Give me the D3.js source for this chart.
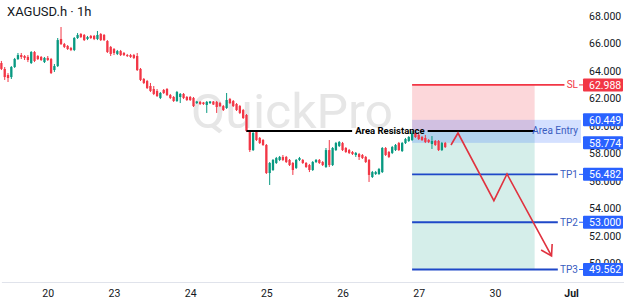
<!DOCTYPE html>
<html>
<head>
<meta charset="utf-8">
<script src="https://cdn.jsdelivr.net/npm/d3@7"></script>
<style>
  body { margin: 0; background: #fff; }
  svg { display: block; font-family: Roboto, 'Noto Sans', sans-serif; }
</style>
</head>
<body>
<svg id="chart" width="624" height="304"></svg>
<script>
// hourly candles, bar 0 = first bar on screen (one row per trading day)
const openPrices = [
  64.58, 64.15, 63.71, 63.56, 64.29, 64.87, 65.16, 65.09, 65.02, 64.58, 65.38, 65.09, 65.02, 64.65,
  64.95, 64.87, 64.07, 64.36, 66.33, 65.96, 65.82, 65.67, 65.53, 66.40, 66.69, 66.62, 66.33, 66.55, 66.55, 66.33, 66.69, 66.62, 66.18, 65.75,
  65.60, 65.24, 65.45, 65.31, 65.16, 65.16, 65.16, 65.09, 64.15, 63.42, 63.27, 62.91, 62.69, 62.55, 62.04, 62.62, 62.69, 62.25, 62.11, 61.82, 62.11, 62.33, 62.11,
  62.11, 62.04, 61.67, 61.75, 61.71, 61.53, 61.67, 61.78, 61.75, 61.67, 61.45, 61.31, 61.96, 61.82, 61.60, 61.45, 61.16, 60.80, 59.56, 58.25, 59.56, 59.13, 58.98,
  58.62, 56.58, 56.80, 57.31, 57.53, 57.75, 57.75, 57.53, 57.31, 56.95, 57.53, 57.53, 57.31, 57.16, 56.80, 57.38, 57.53, 57.38, 57.02, 58.25, 57.16, 58.25, 58.55,
  58.76, 58.40, 58.25, 58.11, 57.89, 57.96, 57.89, 57.75, 57.53, 56.29, 56.51, 56.51, 56.65, 58.40, 58.11, 58.04, 58.25, 58.76, 58.18, 58.76, 58.91, 58.98, 59.49,
  59.35, 59.20, 59.13, 58.98, 58.69, 58.91, 58.91, 58.25, 58.76
]
const highPrices = [
  64.73, 64.29, 63.85, 64.36, 64.95, 65.31, 65.31, 65.16, 65.16, 65.45, 65.45, 65.16, 65.09, 65.02,
  65.09, 64.95, 64.51, 66.40, 67.20, 66.04, 65.89, 65.75, 66.47, 66.76, 66.76, 66.69, 66.55, 66.62, 66.62, 66.91, 66.76, 66.69, 66.25, 65.82,
  65.67, 65.53, 65.53, 65.38, 65.24, 65.24, 65.24, 65.31, 64.22, 63.49, 63.35, 63.13, 62.91, 62.69, 62.47, 62.69, 62.76, 62.33, 62.18, 62.55, 62.40, 62.40, 62.18,
  62.18, 62.11, 61.82, 61.82, 61.75, 61.82, 61.82, 61.82, 61.82, 61.75, 61.53, 62.40, 62.04, 61.89, 61.67, 61.53, 61.24, 60.87, 59.71, 59.56, 59.64, 59.20, 59.05,
  58.69, 57.38, 57.60, 57.75, 57.82, 57.89, 57.82, 57.60, 57.38, 57.60, 57.75, 57.60, 57.38, 57.24, 57.45, 57.60, 57.60, 57.45, 58.40, 58.98, 58.47, 58.84, 58.91,
  58.84, 58.47, 58.33, 58.18, 58.11, 58.04, 57.96, 57.82, 57.60, 56.73, 56.73, 56.95, 58.47, 58.47, 58.18, 58.55, 58.69, 58.84, 58.84, 59.13, 59.27, 59.64, 59.71,
  59.49, 59.27, 59.35, 59.05, 59.27, 58.98, 58.98, 58.84, 58.84
]
const lowPrices = [
  64.07, 63.35, 63.20, 63.42, 64.22, 64.80, 64.87, 64.80, 64.65, 64.51, 64.65, 64.80, 64.73, 64.58,
  64.73, 63.78, 63.93, 64.29, 65.89, 65.67, 65.53, 65.45, 65.45, 66.33, 66.40, 66.18, 66.25, 66.33, 66.25, 66.25, 66.18, 66.18, 65.31, 65.09,
  65.16, 65.16, 65.09, 65.09, 65.02, 64.95, 64.87, 64.00, 63.27, 63.05, 62.69, 62.47, 62.25, 62.11, 61.96, 62.33, 62.18, 61.96, 61.75, 61.75, 61.67, 61.96, 61.82,
  61.82, 61.38, 61.60, 61.53, 61.53, 60.95, 61.60, 61.53, 60.95, 61.38, 61.09, 61.24, 61.60, 61.38, 61.09, 60.87, 60.51, 59.56, 58.11, 58.18, 58.91, 58.69, 58.55,
  56.51, 55.71, 56.73, 57.24, 57.45, 57.45, 57.31, 57.09, 56.44, 56.87, 57.45, 57.24, 56.95, 56.65, 56.73, 57.31, 57.24, 57.09, 56.95, 57.02, 57.09, 58.18, 58.47,
  58.18, 58.04, 57.96, 57.89, 57.75, 57.53, 57.60, 57.31, 55.93, 56.22, 56.44, 56.44, 56.58, 57.82, 57.67, 57.96, 58.18, 58.18, 58.11, 58.69, 58.84, 58.91, 59.13,
  58.98, 58.91, 58.76, 58.76, 58.33, 58.55, 58.18, 58.18, 58.40
]
const closePrices = [
  64.15, 63.56, 63.49, 64.29, 64.87, 65.16, 65.02, 64.95, 64.80, 65.38, 64.73, 64.87, 64.80, 64.95,
  64.80, 63.85, 64.36, 66.25, 65.96, 65.75, 65.60, 65.53, 66.40, 66.62, 66.47, 66.25, 66.47, 66.40, 66.33, 66.62, 66.25, 66.25, 65.38, 65.24,
  65.31, 65.45, 65.16, 65.16, 65.09, 65.02, 64.95, 64.07, 63.35, 63.13, 62.76, 62.55, 62.33, 62.18, 62.40, 62.40, 62.25, 62.04, 61.82, 62.47, 62.33, 62.04, 61.89,
  61.89, 61.45, 61.78, 61.60, 61.60, 61.75, 61.78, 61.56, 61.38, 61.45, 61.16, 61.89, 61.67, 61.45, 61.16, 60.95, 60.58, 59.64, 58.25, 59.49, 58.98, 58.76, 58.62,
  56.58, 57.31, 57.53, 57.67, 57.75, 57.53, 57.38, 57.16, 56.80, 57.53, 57.67, 57.31, 57.02, 56.80, 57.38, 57.53, 57.31, 57.16, 58.25, 57.16, 58.40, 58.76, 58.84,
  58.25, 58.11, 58.04, 57.96, 58.04, 57.75, 57.67, 57.38, 56.44, 56.65, 56.65, 56.87, 58.40, 57.89, 57.75, 58.47, 58.62, 58.25, 58.76, 59.05, 59.20, 59.49, 59.20,
  59.05, 58.98, 58.84, 58.84, 58.91, 58.62, 58.25, 58.76, 58.47
]

// axes
const dayTickBars = [14, 34, 57, 80, 103, 126, 149, 172]
const dayTickLabels = ['20', '23', '24', '25', '26', '27', '30', 'Jul']
const priceTicks = [68, 66, 64, 62, 60, 58, 56, 54, 52, 50]

// trade plan drawn on the chart
const planStartBar = 124
const zoneEndBar = 161
const entryBandEndBar = 175
const stopLineEndBar = 170
const targetLineEndBar = 168
const stopLoss = 62.988
const entryLevel = 59.64
const entryTop = 60.449
const entryBottom = 58.774
const targetNames = ['TP1', 'TP2', 'TP3']
const targetLevels = [56.482, 53.000, 49.562]
const resistanceStartBar = 74
const resistanceLabelBar = 117.3
const pathBars = [135.75, 137.86, 148.7, 152.66, 166.1]
const pathPrices = [58.62, 59.49, 54.57, 56.51, 50.55]

const width = 624
const height = 304
const plotRight = 583
const upColor = '#089981'
const downColor = '#f23645'
const blueLine = '#1f48c8'
const blueLabel = '#2962ff'
const textColor = '#131722'

const svg = d3.select('#chart')

const xScale = d3.scaleLinear()
  .domain([0, 188])
  .range([1.4, 624.06])

const yScale = d3.scaleLinear()
  .domain([50, 68])
  .range([263.5, 16])

// watermark
svg.append('text')
  .attr('x', 191)
  .attr('y', 128)
  .attr('font-size', 48)
  .attr('textLength', 202)
  .attr('lengthAdjust', 'spacingAndGlyphs')
  .attr('fill', '#e6e6e6')
  .text('QuickPro')

// title
svg.append('text')
  .attr('x', 7)
  .attr('y', 15.5)
  .attr('font-size', 13)
  .attr('fill', textColor)
  .text('XAGUSD.h · 1h')

// risk / reward zones
svg.append('rect')
  .attr('x', xScale(planStartBar))
  .attr('y', yScale(stopLoss))
  .attr('width', xScale(zoneEndBar) - xScale(planStartBar))
  .attr('height', yScale(entryLevel) - yScale(stopLoss))
  .attr('fill', 'rgba(242,54,69,0.2)')

svg.append('rect')
  .attr('x', xScale(planStartBar))
  .attr('y', yScale(entryLevel))
  .attr('width', xScale(zoneEndBar) - xScale(planStartBar))
  .attr('height', yScale(targetLevels[2]) - yScale(entryLevel))
  .attr('fill', 'rgba(8,153,129,0.17)')

svg.append('rect')
  .attr('x', xScale(planStartBar))
  .attr('y', yScale(entryTop))
  .attr('width', xScale(entryBandEndBar) - xScale(planStartBar))
  .attr('height', yScale(entryBottom) - yScale(entryTop))
  .attr('fill', 'rgba(41,98,255,0.2)')

// candles
const candles = closePrices.map((c, i) => ({
  bar: i, open: openPrices[i], high: highPrices[i], low: lowPrices[i], close: c
}))
const bodyWidth = 2.3

const candleGroup = svg.append('g')
candleGroup.selectAll('line')
  .data(candles)
  .join('line')
  .attr('x1', d => xScale(d.bar))
  .attr('x2', d => xScale(d.bar))
  .attr('y1', d => yScale(d.high))
  .attr('y2', d => yScale(d.low))
  .attr('stroke', d => d.close >= d.open ? upColor : downColor)
  .attr('stroke-width', 1)

candleGroup.selectAll('rect')
  .data(candles)
  .join('rect')
  .attr('x', d => xScale(d.bar) - bodyWidth / 2)
  .attr('y', d => yScale(Math.max(d.open, d.close)))
  .attr('width', bodyWidth)
  .attr('height', d => Math.max(1, Math.abs(yScale(d.open) - yScale(d.close))))
  .attr('fill', d => d.close >= d.open ? upColor : downColor)

// area resistance line with its label in a gap
const resLabel = svg.append('text')
  .attr('x', xScale(resistanceLabelBar))
  .attr('y', yScale(entryLevel))
  .attr('dy', '0.35em')
  .attr('text-anchor', 'middle')
  .attr('font-size', 9.5)
  .attr('font-weight', 'bold')
  .attr('fill', '#000')
  .text('Area Resistance')
const halfGap = resLabel.node().getComputedTextLength() / 2 + 3

svg.append('line')
  .attr('x1', xScale(resistanceStartBar))
  .attr('x2', xScale(resistanceLabelBar) - halfGap)
  .attr('y1', yScale(entryLevel))
  .attr('y2', yScale(entryLevel))
  .attr('stroke', '#000')
  .attr('stroke-width', 2)
svg.append('line')
  .attr('x1', xScale(resistanceLabelBar) + halfGap)
  .attr('x2', xScale(zoneEndBar))
  .attr('y1', yScale(entryLevel))
  .attr('y2', yScale(entryLevel))
  .attr('stroke', '#000')
  .attr('stroke-width', 2)

svg.append('text')
  .attr('x', 578)
  .attr('y', yScale(entryLevel))
  .attr('dy', '0.35em')
  .attr('text-anchor', 'end')
  .attr('font-size', 10)
  .attr('fill', '#3a5cc0')
  .text('Area Entry')

// stop loss and targets
svg.append('line')
  .attr('x1', xScale(planStartBar))
  .attr('x2', xScale(stopLineEndBar))
  .attr('y1', yScale(stopLoss))
  .attr('y2', yScale(stopLoss))
  .attr('stroke', downColor)
  .attr('stroke-width', 1.6)
svg.append('text')
  .attr('x', 578)
  .attr('y', yScale(stopLoss))
  .attr('dy', '0.35em')
  .attr('text-anchor', 'end')
  .attr('font-size', 10)
  .attr('fill', downColor)
  .text('SL')

const targets = svg.append('g').selectAll('g')
  .data(targetLevels)
  .join('g')
targets.append('line')
  .attr('x1', xScale(planStartBar))
  .attr('x2', xScale(targetLineEndBar))
  .attr('y1', d => yScale(d))
  .attr('y2', d => yScale(d))
  .attr('stroke', blueLine)
  .attr('stroke-width', 1.8)
targets.append('text')
  .attr('x', 578)
  .attr('y', d => yScale(d))
  .attr('dy', '0.35em')
  .attr('text-anchor', 'end')
  .attr('font-size', 10)
  .attr('fill', '#3a5cc0')
  .text((d, i) => targetNames[i])

// projected path
const path = pathBars.map((b, i) => [xScale(b), yScale(pathPrices[i])])
svg.append('path')
  .attr('d', d3.line()(path))
  .attr('fill', 'none')
  .attr('stroke', '#e0323f')
  .attr('stroke-width', 1.6)
  .attr('stroke-linejoin', 'miter')

const tip = path[path.length - 1]
const prev = path[path.length - 2]
const ang = Math.atan2(tip[1] - prev[1], tip[0] - prev[0])
const headLen = 12
const wing = (a) => [tip[0] - headLen * Math.cos(ang + a), tip[1] - headLen * Math.sin(ang + a)]
svg.append('path')
  .attr('d', d3.line()([wing(0.55), tip, wing(-0.55)]))
  .attr('fill', 'none')
  .attr('stroke', '#e0323f')
  .attr('stroke-width', 1.6)

// price axis
const yAxis = svg.append('g')
  .attr('transform', `translate(${plotRight + 2}, 0)`)
  .call(d3.axisRight(yScale)
    .tickValues(priceTicks)
    .tickFormat(d3.format('.3f'))
    .tickSize(0)
    .tickPadding(4))
yAxis.select('.domain').remove()
yAxis.selectAll('text')
  .attr('font-size', 10.5)
  .attr('font-family', 'Roboto, sans-serif')
  .attr('fill', textColor)

// price labels on the axis
const axisLabels = [
  { value: stopLoss, color: downColor },
  { value: entryTop, color: blueLabel },
  { value: entryBottom, color: blueLabel },
  { value: targetLevels[0], color: blueLabel },
  { value: targetLevels[1], color: blueLabel },
  { value: targetLevels[2], color: blueLabel }
]
const tags = svg.append('g').selectAll('g')
  .data(axisLabels)
  .join('g')
tags.filter(d => d.value !== entryTop && d.value !== entryBottom)
  .append('line')
  .attr('x1', 579)
  .attr('x2', plotRight)
  .attr('y1', d => yScale(d.value))
  .attr('y2', d => yScale(d.value))
  .attr('stroke', d => d.color)
  .attr('stroke-width', 1)
tags.append('rect')
  .attr('x', plotRight)
  .attr('y', d => yScale(d.value) - 6.5)
  .attr('width', 40)
  .attr('height', 13)
  .attr('rx', 1)
  .attr('fill', d => d.color)
tags.append('text')
  .attr('x', plotRight + 6)
  .attr('y', d => yScale(d.value))
  .attr('dy', '0.35em')
  .attr('font-size', 10.5)
  .attr('fill', '#fff')
  .text(d => d3.format('.3f')(d.value))

// time axis
const xAxis = svg.append('g')
  .attr('transform', 'translate(0, 282)')
  .call(d3.axisBottom(xScale)
    .tickValues(dayTickBars)
    .tickFormat((d, i) => dayTickLabels[i])
    .tickSize(0)
    .tickSizeOuter(0)
    .tickPadding(8))
xAxis.select('.domain')
  .attr('stroke', '#e0e3eb')
xAxis.selectAll('text')
  .attr('font-size', 10.5)
  .attr('font-family', 'Roboto, sans-serif')
  .attr('fill', textColor)
  .attr('font-weight', (d, i) => dayTickLabels[i] === 'Jul' ? 'bold' : null)
</script>
</body>
</html>
